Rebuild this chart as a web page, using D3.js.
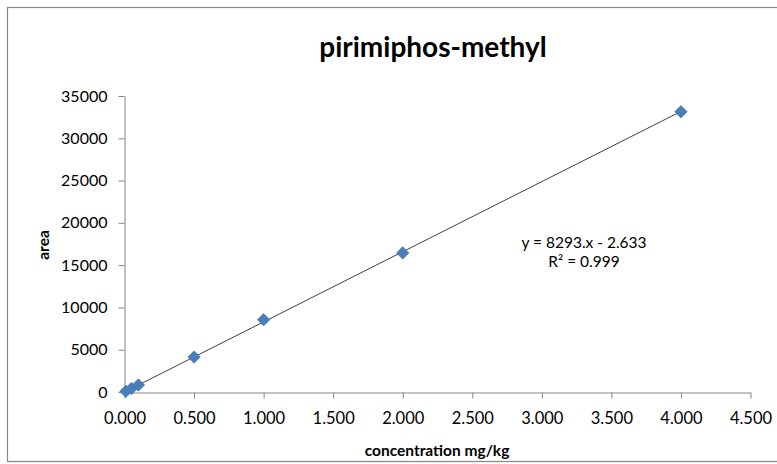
<!DOCTYPE html>
<html>
<head>
<meta charset="utf-8">
<script src="https://cdn.jsdelivr.net/npm/d3@7"></script>
<style>
  html, body { margin: 0; padding: 0; background: #fff; }
  svg { display: block; }
  text { font-family: Lato, "Open Sans", "Noto Sans", sans-serif; fill: #000; }
</style>
</head>
<body>
<svg id="chart" width="777" height="464"></svg>
<script>
// Calibration data: concentration (mg/kg) vs peak area
const concentrations = [0.01, 0.05, 0.1, 0.5, 1.0, 2.0, 4.0];
const areas = [80, 420, 830, 4130, 8550, 16450, 33150];

// Linear fit reported for the series
const slope = 8293;
const intercept = -2.633;
const rSquared = 0.999;

const xTicks = [0, 0.5, 1, 1.5, 2, 2.5, 3, 3.5, 4, 4.5];
const yTicks = [0, 5000, 10000, 15000, 20000, 25000, 30000, 35000];

const title = "pirimiphos-methyl";
const xTitle = "concentration mg/kg";
const yTitle = "area";

const svg = d3.select("#chart");
const W = 777;

// Outer chart frame
svg.append("rect")
  .attr("x", 7.5).attr("y", 7.5)
  .attr("width", W + 10).attr("height", 454)
  .attr("fill", "#fff").attr("stroke", "#868686").attr("stroke-width", 1.2);

const plot = { left: 124.5, right: 750.5, top: 96, bottom: 392 };

const x = d3.scaleLinear().domain([0, 4.5]).range([plot.left, plot.right]);
const y = d3.scaleLinear().domain([0, 35000]).range([plot.bottom, plot.top]);

// X axis
const xAxis = d3.axisBottom(x)
  .tickValues(xTicks)
  .tickFormat(d3.format(".3f"))
  .tickSize(6)
  .tickSizeOuter(0);
const gx = svg.append("g")
  .attr("transform", `translate(0,${plot.bottom + 0.5})`)
  .call(xAxis);
gx.select(".domain").attr("stroke", "#868686");
gx.selectAll(".tick line").attr("stroke", "#868686");
gx.selectAll(".tick text")
  .attr("dy", "0.71em").attr("y", 20)
  .style("font-size", "16.5px");

// Y axis
const yAxis = d3.axisLeft(y)
  .tickValues(yTicks)
  .tickFormat(d3.format("d"))
  .tickSize(6)
  .tickSizeOuter(0);
const gy = svg.append("g")
  .attr("transform", `translate(${plot.left},0)`)
  .call(yAxis);
gy.select(".domain").attr("stroke", "#868686");
gy.selectAll(".tick line").attr("stroke", "#868686");
gy.selectAll(".tick text")
  .attr("x", -17)
  .style("font-size", "16px");

// Trendline from the fitted equation
const fitX = [0, d3.max(concentrations)];
svg.append("path")
  .datum(fitX)
  .attr("fill", "none")
  .attr("stroke", "#404040")
  .attr("stroke-width", 1)
  .attr("d", d3.line().x(d => x(d)).y(d => y(slope * d + intercept)));

// Data markers (diamonds)
const diamond = d3.symbol().type(d3.symbolDiamond2).size(100);
svg.append("g")
  .selectAll("path")
  .data(concentrations.map((c, i) => ({ c, a: areas[i] })))
  .join("path")
  .attr("transform", d => `translate(${x(d.c)},${y(d.a)})`)
  .attr("d", diamond)
  .attr("fill", "#4a7ebb")
  .attr("stroke", "#3f72b0")
  .attr("stroke-width", 0.6);

// Title
svg.append("text")
  .attr("x", 433).attr("y", 57)
  .attr("text-anchor", "middle")
  .style("font-size", "28px").style("font-weight", "bold")
  .text(title);

// Axis titles
svg.append("text")
  .attr("x", 437).attr("y", 456)
  .attr("text-anchor", "middle")
  .style("font-size", "15.5px").style("font-weight", "bold")
  .text(xTitle);

svg.append("text")
  .attr("transform", "translate(49,245) rotate(-90)")
  .attr("text-anchor", "middle")
  .style("font-size", "15.5px").style("font-weight", "bold")
  .text(yTitle);

// Fit equation label
const eq = svg.append("text")
  .attr("text-anchor", "middle")
  .style("font-size", "15.5px");
eq.append("tspan").attr("x", 584).attr("y", 248)
  .text(`y = ${slope}.x - ${Math.abs(intercept)}`);
eq.append("tspan").attr("x", 584).attr("y", 267)
  .text(`R² = ${rSquared}`);
</script>
</body>
</html>
